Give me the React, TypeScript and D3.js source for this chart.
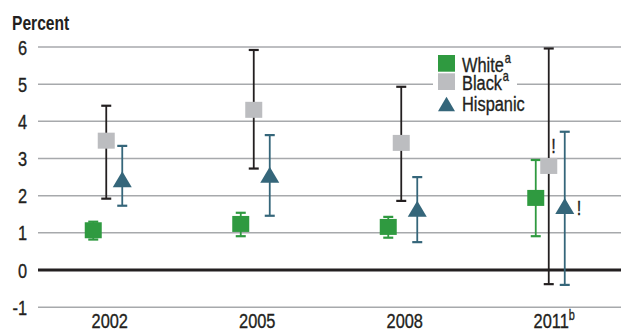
import React from "react";
import * as d3 from "d3";

// Survey years on the x axis (superscript notes kept separately)
const years = ["2002", "2005", "2008", "2011"];
const yearNotes = ["", "", "", "b"];

// Series and their legend notes
const seriesNames = ["White", "Black", "Hispanic"];
const seriesNotes = ["a", "a", ""];

// Point estimates and 95% confidence bounds (percent)
const whiteEst = [1.07, 1.24, 1.16, 1.94];
const whiteLow = [0.82, 0.91, 0.87, 0.91];
const whiteHigh = [1.3, 1.54, 1.43, 2.96];

const blackEst = [3.48, 4.31, 3.42, 2.8];
const blackLow = [1.92, 2.73, 1.86, -0.38];
const blackHigh = [4.42, 5.92, 4.93, 5.96];

const hispanicEst = [2.44, 2.56, 1.65, 1.72];
const hispanicLow = [1.73, 1.46, 0.75, -0.4];
const hispanicHigh = [3.34, 3.63, 2.5, 3.72];

// Estimates flagged as unreliable ("!")
const blackFlag = [false, false, false, true];
const hispanicFlag = [false, false, false, true];

const yTicks = [-1, 0, 1, 2, 3, 4, 5, 6];

const W = 621;
const H = 329;
const FONT = "'Liberation Sans', Arial, sans-serif";
const SX = 0.78; // horizontal squeeze for a condensed look
const INK = "#231f20";

const COLORS: Record<string, { fill: string; bar: string }> = {
  White: { fill: "#2f9a40", bar: "#2f9a40" },
  Black: { fill: "#bcbdc0", bar: "#231f20" },
  Hispanic: { fill: "#35667a", bar: "#35667a" },
};
const OFFSETS: Record<string, number> = { White: -16.5, Black: -3.5, Hispanic: 12.5 };

const series = [
  { name: "White", est: whiteEst, low: whiteLow, high: whiteHigh, flag: [false, false, false, false] },
  { name: "Black", est: blackEst, low: blackLow, high: blackHigh, flag: blackFlag },
  { name: "Hispanic", est: hispanicEst, low: hispanicLow, high: hispanicHigh, flag: hispanicFlag },
];

const SQ = 17; // square marker side
const TW = 19; // triangle width
const TH = 16; // triangle height

function trianglePath(cx: number, cy: number, w: number, h: number) {
  const p = d3.path();
  p.moveTo(cx, cy - h / 2);
  p.lineTo(cx + w / 2, cy + h / 2);
  p.lineTo(cx - w / 2, cy + h / 2);
  p.closePath();
  return p.toString();
}

function CText(props: {
  x: number;
  y: number;
  size?: number;
  anchor?: "start" | "middle" | "end";
  bold?: boolean;
  children: React.ReactNode;
}) {
  const { x, y, size = 21, anchor = "start", bold = false, children } = props;
  return (
    <text
      transform={`translate(${x},${y}) scale(${SX},1)`}
      fontSize={size}
      fontWeight={bold ? "bold" : "normal"}
      textAnchor={anchor}
      fill={INK}
      stroke={bold ? "none" : INK}
      strokeWidth={bold ? 0 : 0.35}
    >
      {children}
    </text>
  );
}

export default function App() {
  const x = d3.scaleBand<string>().domain(years).range([36, 626]);
  const y = d3.scaleLinear().domain([-1, 6]).range([307.2, 47]);
  const cx = (yr: string, s: string) => (x(yr) as number) + x.bandwidth() / 2 + OFFSETS[s];

  return (
    <svg
      width={W}
      height={H}
      style={{ position: "absolute", left: 0, top: 0, background: "#fff" }}
      fontFamily={FONT}
    >
      <rect x={0} y={0} width={W} height={H} fill="#fff" />

      {/* Axis title */}
      <CText x={12} y={29.5} size={20} bold>
        Percent
      </CText>

      {/* Gridlines and y tick labels */}
      {yTicks.map((t) => (
        <g key={t}>
          <line
            x1={38}
            x2={W}
            y1={y(t)}
            y2={y(t)}
            stroke={t === 0 ? INK : "#a7a9ac"}
            strokeWidth={t === 0 ? 3 : 1.5}
          />
          <CText x={27} y={y(t) + 7.5} anchor="end">
            {t < 0 ? `-${Math.abs(t)}` : String(t)}
          </CText>
        </g>
      ))}

      {/* Year labels */}
      {years.map((yr, i) => (
        <CText
          key={yr}
          x={(x(yr) as number) + x.bandwidth() / 2 + (yearNotes[i] ? 2 : 0)}
          y={327.5}
          anchor="middle"
        >
          {yr}
          {yearNotes[i] && (
            <tspan fontSize={14} dy={-8}>
              {yearNotes[i]}
            </tspan>
          )}
        </CText>
      ))}

      {/* Legend */}
      <g>
        <rect x={433} y={50} width={84} height={65} fill="#fff" />
        {seriesNames.map((s, i) => {
          const baselines = [71.7, 90, 111];
          const tops = [55, 73.3, 96.7];
          return (
            <g key={s}>
              {s === "Hispanic" ? (
                <path d={trianglePath(446.5, tops[i] + 7.3, 17, 14.6)} fill={COLORS[s].fill} />
              ) : (
                <rect x={438} y={tops[i]} width={17} height={16.7} fill={COLORS[s].fill} />
              )}
              <CText x={462} y={baselines[i]}>
                {s}
                {seriesNotes[i] && (
                  <tspan fontSize={14} dy={-9} dx={1}>
                    {seriesNotes[i]}
                  </tspan>
                )}
              </CText>
            </g>
          );
        })}
      </g>

      {/* Error bars */}
      {series.map((s) =>
        years.map((yr, i) => {
          const px = cx(yr, s.name);
          const c = COLORS[s.name].bar;
          return (
            <g key={`${s.name}-${yr}-bar`} stroke={c} strokeWidth={1.8}>
              <line x1={px} x2={px} y1={y(s.low[i])} y2={y(s.high[i])} />
              <line x1={px - 5} x2={px + 5} y1={y(s.low[i])} y2={y(s.low[i])} strokeWidth={2.2} />
              <line x1={px - 5} x2={px + 5} y1={y(s.high[i])} y2={y(s.high[i])} strokeWidth={2.2} />
            </g>
          );
        })
      )}

      {/* Point markers */}
      {series.map((s) =>
        years.map((yr, i) => {
          const px = cx(yr, s.name);
          const py = y(s.est[i]);
          const fill = COLORS[s.name].fill;
          return s.name === "Hispanic" ? (
            <path key={`${s.name}-${yr}-pt`} d={trianglePath(px, py, TW, TH)} fill={fill} />
          ) : (
            <rect key={`${s.name}-${yr}-pt`} x={px - SQ / 2} y={py - 8} width={SQ} height={16} fill={fill} />
          );
        })
      )}

      {/* Reliability flags */}
      {series.map((s) =>
        years.map((yr, i) => {
          if (!s.flag[i]) return null;
          const px = cx(yr, s.name);
          const py = y(s.est[i]);
          const pos = s.name === "Black" ? { dx: 2.5, dy: -13 } : { dx: 12, dy: 9 };
          return (
            <CText key={`${s.name}-${yr}-flag`} x={px + pos.dx} y={py + pos.dy}>
              !
            </CText>
          );
        })
      )}
    </svg>
  );
}
